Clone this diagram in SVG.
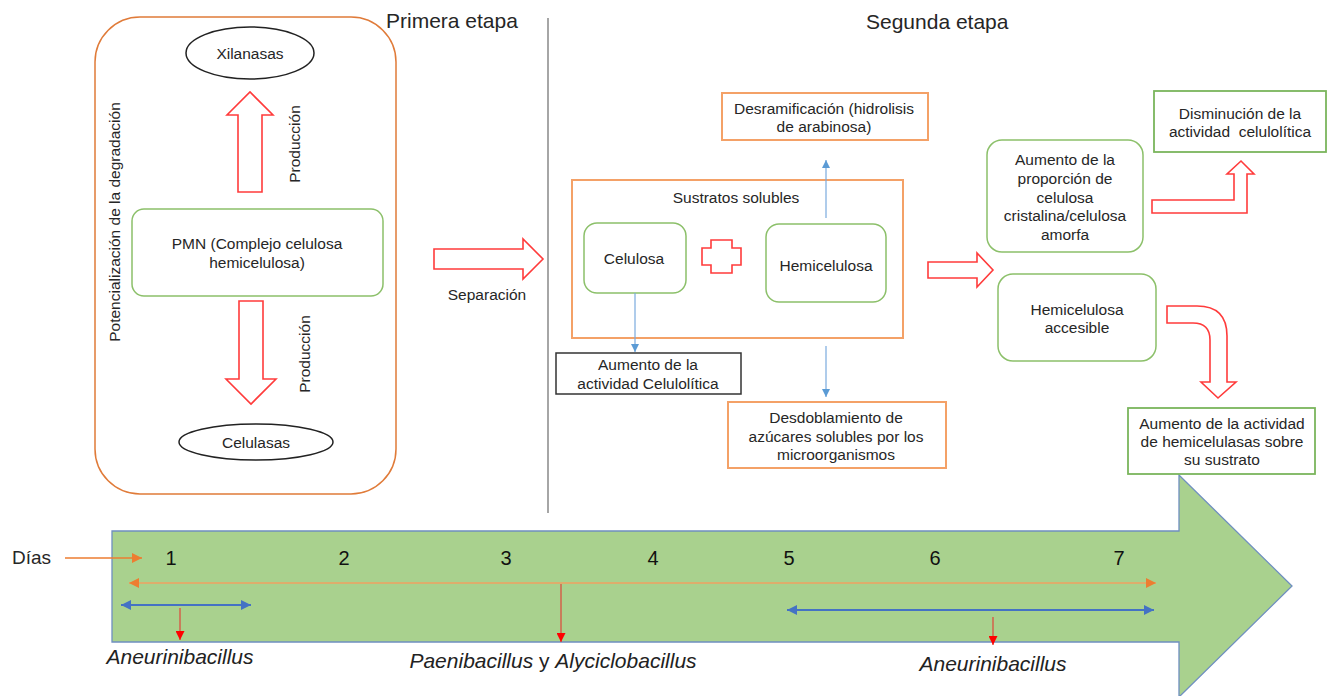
<svg xmlns="http://www.w3.org/2000/svg" width="1328" height="696" viewBox="0 0 1328 696">
<defs>
<style>
text{font-family:"Liberation Sans",Arial,sans-serif;fill:#262626;}
.t{font-size:15.5px;text-anchor:middle;}
.h{font-size:21px;}
.num{font-size:20px;text-anchor:middle;fill:#111;}
.sp{font-size:21px;font-style:italic;text-anchor:middle;fill:#222;}
.rnd{fill:#fff;stroke:#8cc06a;stroke-width:1.5;}
.gbox{fill:#fff;stroke:#7ab55c;stroke-width:1.8;}
.obox{fill:#fff;stroke:#f4a167;stroke-width:2;}
.ell{fill:#fff;stroke:#222;stroke-width:1.5;}
.bigr{fill:#fff;stroke:#ff3b3b;stroke-width:1.6;stroke-linejoin:miter;}
.bl{stroke:#7aaade;stroke-width:1.2;fill:none;}
.rl{stroke:#e0453a;stroke-width:1.2;fill:none;}
</style>
<marker id="mb" viewBox="0 0 10 10" refX="10" refY="5" markerWidth="8" markerHeight="8" markerUnits="userSpaceOnUse" orient="auto-start-reverse"><path d="M0,0 L10,5 L0,10 Z" fill="#5b9bd5"/></marker>
<marker id="mr" viewBox="0 0 10 10" refX="10" refY="5" markerWidth="9" markerHeight="9" markerUnits="userSpaceOnUse" orient="auto-start-reverse"><path d="M0,0 L10,5 L0,10 Z" fill="#ff0000"/></marker>
<marker id="mo" viewBox="0 0 10 10" refX="10" refY="5" markerWidth="10" markerHeight="10" markerUnits="userSpaceOnUse" orient="auto-start-reverse"><path d="M0,0 L10,5 L0,10 Z" fill="#ed7d31"/></marker>
<marker id="mbl" viewBox="0 0 10 10" refX="10" refY="5" markerWidth="10" markerHeight="10" markerUnits="userSpaceOnUse" orient="auto-start-reverse"><path d="M0,0 L10,5 L0,10 Z" fill="#4472c4"/></marker>
</defs>

<!-- timeline arrow -->
<g id="timeline">
<polygon points="112,531 1179,531 1179,475 1292,586 1179,697 1179,642 112,642" fill="#a9d18e" stroke="#6f8fc0" stroke-width="1.3"/>
<text class="num" x="171" y="565">1</text>
<text class="num" x="344" y="565">2</text>
<text class="num" x="506" y="565">3</text>
<text class="num" x="653" y="565">4</text>
<text class="num" x="789" y="565">5</text>
<text class="num" x="935" y="565">6</text>
<text class="num" x="1119" y="565">7</text>
</g>
<g id="dias"><text x="12" y="564" style="font-size:19px">Días</text></g>
<g id="sp1"><text class="sp" x="180" y="664">Aneurinibacillus</text></g>
<g id="sp2"><text class="sp" x="553" y="668">Paenibacillus<tspan style="font-style:normal"> y </tspan>Alyciclobacillus</text></g>
<g id="sp3"><text class="sp" x="993" y="671">Aneurinibacillus</text></g>

<!-- headers -->
<g id="hdr1"><text class="h" x="386" y="28">Primera etapa</text></g>
<g id="hdr2"><text class="h" x="866" y="29">Segunda etapa</text></g>
<line x1="548" y1="18" x2="548" y2="513" stroke="#a6a6a6" stroke-width="2"/>

<!-- first stage -->
<g id="etapa1"><rect x="95" y="17" width="301" height="477" rx="45" fill="none" stroke="#e07b39" stroke-width="1.5"/></g>
<g id="potenc"><text class="t" transform="translate(115,222) rotate(-90)" x="0" y="5">Potencialización de la degradación</text></g>
<g id="xil"><ellipse class="ell" cx="250" cy="53" rx="64" ry="26"/><text class="t" x="250" y="59">Xilanasas</text></g>
<g id="cel"><ellipse class="ell" cx="256" cy="442" rx="77" ry="18"/><text class="t" x="256" y="447.5">Celulasas</text></g>
<g id="pmn"><rect class="rnd" x="132" y="209" width="251" height="87" rx="12"/><text class="t" x="257" y="248.5">PMN (Complejo celulosa</text><text class="t" x="257" y="267.5">hemicelulosa)</text></g>
<g id="prod1"><text class="t" transform="translate(295,144) rotate(-90)" x="0" y="5">Producción</text></g>
<g id="prod2"><text class="t" transform="translate(305,354) rotate(-90)" x="0" y="5">Producción</text></g>
<g id="sep"><text class="t" x="487" y="300">Separación</text></g>

<!-- second stage -->
<g id="desram"><rect class="obox" x="722" y="93" width="206" height="47"/><text class="t" x="824" y="113.5">Desramificación (hidrolisis</text><text class="t" x="824" y="132">de arabinosa)</text></g>
<g id="sustratos"><rect class="obox" x="572" y="180" width="331" height="158"/><text class="t" x="736" y="203">Sustratos solubles</text></g>
<g id="celulosa"><rect class="rnd" x="584" y="223" width="102" height="70" rx="13"/><text class="t" x="634" y="264">Celulosa</text></g>
<g id="hemi"><rect class="rnd" x="766" y="224" width="120" height="78" rx="13"/><text class="t" x="826" y="271">Hemicelulosa</text></g>
<g id="aumcel"><rect x="556" y="353" width="185" height="41" fill="#fff" stroke="#333" stroke-width="1.5"/><text class="t" x="648" y="370">Aumento de la</text><text class="t" x="648" y="389">actividad Celulolítica</text></g>
<g id="desdob"><rect class="obox" x="728" y="402" width="218" height="66"/><text class="t" x="836" y="423">Desdoblamiento de</text><text class="t" x="836" y="442">azúcares solubles por los</text><text class="t" x="836" y="460">microorganismos</text></g>
<g id="prop"><rect class="rnd" x="987" y="140" width="156" height="112" rx="15"/><text class="t" x="1065" y="165">Aumento de la</text><text class="t" x="1065" y="184">proporción de</text><text class="t" x="1065" y="202.5">celulosa</text><text class="t" x="1065" y="221">cristalina/celulosa</text><text class="t" x="1065" y="240">amorfa</text></g>
<g id="hemiacc"><rect class="rnd" x="998" y="274" width="158" height="87" rx="15"/><text class="t" x="1077" y="314.5">Hemicelulosa</text><text class="t" x="1077" y="333">accesible</text></g>
<g id="dismin"><rect class="gbox" x="1154" y="91" width="172" height="61"/><text class="t" x="1240" y="118.5">Disminución de la</text><text class="t" x="1240" y="137" xml:space="preserve">actividad  celulolítica</text></g>
<g id="hemicelulasas"><rect class="gbox" x="1128" y="408" width="187" height="66"/><text class="t" x="1222" y="429">Aumento de la actividad</text><text class="t" x="1222" y="447">de hemicelulasas sobre</text><text class="t" x="1222" y="465">su sustrato</text></g>

<!-- connectors -->
<g id="connectors">
<polygon class="bigr" points="238,192 262,192 262,115 273,115 250,92 227,115 238,115"/>
<polygon class="bigr" points="239,301 263,301 263,379 276,379 251,404 226,379 239,379"/>
<polygon class="bigr" points="434,249 523,249 523,239 543,259 523,279 523,269 434,269"/>
<polygon class="bigr" points="711,240 732,240 732,248 741,248 741,265 732,265 732,273 711,273 711,265 702,265 702,248 711,248"/>
<polygon class="bigr" points="928,262 977,262 977,253 993,270 977,287 977,278 928,278"/>
<path class="bigr" d="M1152,200 L1234,200 L1234,174 L1227,174 L1241,161 L1254,174 L1247,174 L1247,213 L1152,213 Z"/>
<path class="bigr" d="M1167,306 L1197,306 Q1227,306 1227,336 L1227,382 L1236,382 L1218,398 L1201,382 L1210,382 L1210,340 Q1210,323 1193,323 L1167,323 Z"/>
<line class="bl" x1="826" y1="218" x2="826" y2="160" marker-end="url(#mb)"/>
<line class="bl" x1="635" y1="293" x2="635" y2="352" marker-end="url(#mb)"/>
<line class="bl" x1="826" y1="346" x2="826" y2="397" marker-end="url(#mb)"/>
<line x1="65" y1="558" x2="142" y2="558" stroke="#ed7d31" stroke-width="1.5" marker-end="url(#mo)"/>
<line x1="129" y1="583" x2="1156" y2="583" stroke="#f0a060" stroke-width="1.3" marker-start="url(#mo)" marker-end="url(#mo)"/>
<line x1="121" y1="605" x2="251" y2="605" stroke="#4472c4" stroke-width="2" marker-start="url(#mbl)" marker-end="url(#mbl)"/>
<line x1="787" y1="610" x2="1154" y2="610" stroke="#4472c4" stroke-width="2" marker-start="url(#mbl)" marker-end="url(#mbl)"/>
<line class="rl" x1="180" y1="608" x2="180" y2="640" marker-end="url(#mr)"/>
<line class="rl" x1="561" y1="584" x2="561" y2="642" marker-end="url(#mr)"/>
<line class="rl" x1="993" y1="617" x2="993" y2="645" marker-end="url(#mr)"/>
</g>
</svg>
